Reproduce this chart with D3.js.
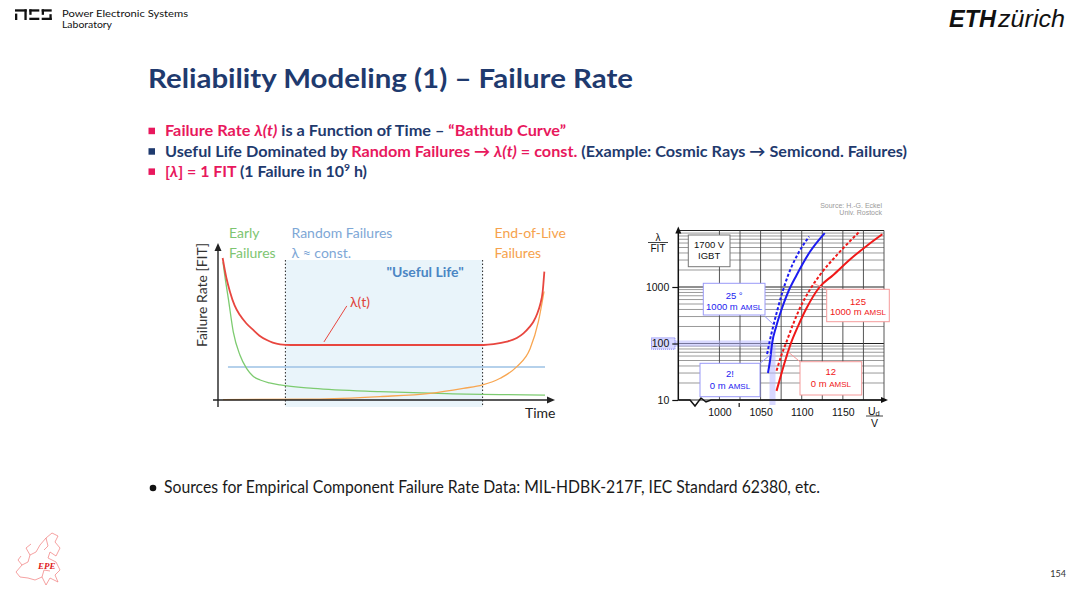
<!DOCTYPE html>
<html>
<head>
<meta charset="utf-8">
<script src="https://cdnjs.cloudflare.com/ajax/libs/d3/7.8.5/d3.min.js"></script>
<style>
  body { margin: 0; background: #fff; }
  svg { display: block; }
</style>
</head>
<body>
<svg id="slide" width="1080" height="590"></svg>
<script>
// ---------- bathtub curve (time 0..100, rate 0..100, arbitrary units) ----------
const totalRate = [[1.4,91.6],[2.5,79],[3.6,69.9],[5,61],[6.6,54.8],[8.5,49.5],[10.6,45.2],[12.5,41.5],
                   [14.7,38.7],[16.5,37],[18.7,35.9],[22,35.5],[80,35.5],[83,36],[87,37.6],[90,40],
                   [92,43],[93.8,47],[95,50.5],[96.2,56],[97,61.3],[97.8,70],[98.3,82.8]];
const earlyFailures = [[1.5,89],[2.2,78],[3.1,65.6],[4.6,44],[6.6,29],[8.6,20.4],[10.5,15.5],[12.7,12.9],
                       [15.5,11],[18.7,9.7],[28.7,7.5],[48.8,5.4],[68.9,4.1],[98.5,3.2]];
const wearOutFailures = [[1.5,0.3],[28.7,0.6],[48.8,2.2],[63.9,4.3],[73.9,7.5],[79.7,9.7],[85,14],
                         [90,21.5],[94,33],[96.5,50.5],[98.2,70]];
const randomFailures = [[3,21.3],[98.5,21.3]];
const usefulLife = [20.3, 79.7];

// ---------- 1700 V IGBT cosmic ray failure rate (FIT vs Ud) ----------
const voltTicks = [1000, 1050, 1100, 1150];
const voltGrid = [1000, 1025, 1050, 1075, 1100, 1125, 1150, 1175, 1200];
const fitTicks = [10, 100, 1000];
const blue25_1000m = [[1058,65],[1061,108],[1066,220],[1071,420],[1077,850],[1083.5,1620],[1096,4000],[1109,7800]];
const blue25_0m = [[1059,30],[1061.5,50],[1064,100],[1069,200],[1076,420],[1084,850],[1093.7,1620],[1110,4200],[1128,9000]];
const red125_1000m = [[1069.4,33],[1075,60],[1081.6,108],[1089,210],[1097.7,420],[1109,850],[1122,1620],[1145,4000],[1170,9500]];
const red125_0m = [[1069.4,14.5],[1074,25],[1080,50],[1087.6,108],[1096,210],[1105.8,420],[1121.8,1000],[1138,1620],[1160,3200],[1180,5500],[1198,8600]];

const pink = "#e8185d";
const navy = "#1f3a6e";

let svg = d3.select("#slide");

// rich text line (several coloured runs), squeezed to the width seen in the slide
function richText(sel, x, y, size, weight, len, parts) {
    let t = sel.append("text")
        .attr("x", x).attr("y", y)
        .attr("font-family", "Lato, 'Open Sans', sans-serif")
        .attr("font-size", size)
        .attr("font-weight", weight)
        .attr("xml:space", "preserve");
    if (len) t.attr("textLength", len).attr("lengthAdjust", "spacingAndGlyphs");
    let back = 0;
    parts.forEach(function(p) {
        let s = t.append("tspan").text(p.t).attr("fill", p.c);
        if (p.i) s.attr("font-style", "italic");
        if (p.sup) { s.attr("dy", -6).attr("font-size", size * 0.65); back = 6; }
        else if (back) { s.attr("dy", back); back = 0; }
    });
    return t;
}

// ---------- header ----------
let logo = svg.append("g").attr("fill", "#111");
// PES glyphs
[[15,9.3,11.7,2.3],[24.4,9.3,2.3,10.7],[15,13.6,2.3,6.4],
 [29.3,9.3,10,2.3],[29.3,9.3,2.3,5.5],[29.3,17.7,10,2.3],
 [41.7,9.3,10,2.3],[41.7,9.3,2.3,5.5],[41.7,17.7,10,2.3],[49.4,14.2,2.3,5.8]].forEach(function(r) {
    logo.append("rect").attr("x", r[0]).attr("y", r[1]).attr("width", r[2]).attr("height", r[3]);
});
logo.append("text").attr("x", 62).attr("y", 17.3).attr("font-family", "Lato, sans-serif")
    .attr("font-size", 10).attr("textLength", 126).attr("lengthAdjust", "spacingAndGlyphs")
    .text("Power Electronic Systems");
logo.append("text").attr("x", 62).attr("y", 28).attr("font-family", "Lato, sans-serif")
    .attr("font-size", 10).attr("textLength", 50).attr("lengthAdjust", "spacingAndGlyphs")
    .text("Laboratory");

svg.append("text").attr("x", 949).attr("y", 26.7)
    .attr("font-family", "'Liberation Sans', Arial, sans-serif").attr("font-size", 24)
    .attr("font-weight", "bold").attr("font-style", "italic").attr("fill", "#111")
    .attr("textLength", 47).attr("lengthAdjust", "spacingAndGlyphs").text("ETH");
svg.append("text").attr("x", 998).attr("y", 26.7)
    .attr("font-family", "'Liberation Sans', Arial, sans-serif").attr("font-size", 24)
    .attr("font-style", "italic").attr("fill", "#111")
    .attr("textLength", 67).attr("lengthAdjust", "spacingAndGlyphs").text("zürich");

// ---------- title and bullets ----------
svg.append("text").attr("x", 148).attr("y", 88)
    .attr("font-family", "Lato, sans-serif").attr("font-size", 27).attr("font-weight", "bold")
    .attr("fill", navy).attr("textLength", 485).attr("lengthAdjust", "spacingAndGlyphs")
    .text("Reliability Modeling (1) – Failure Rate");

let bulletY = [136.3, 156.8, 177];
let bulletCol = [pink, navy, pink];
bulletY.forEach(function(y, i) {
    svg.append("rect").attr("x", 148.5).attr("y", y - 8.6).attr("width", 6.5).attr("height", 6.5)
        .attr("fill", bulletCol[i]);
});
richText(svg, 165, bulletY[0], 15.5, "bold", 401, [
    {t: "Failure Rate ", c: pink}, {t: "λ(t)", c: pink, i: true},
    {t: " is a Function of Time – ", c: navy}, {t: "“Bathtub Curve”", c: pink}]);
richText(svg, 165, bulletY[1], 15.5, "bold", 742, [
    {t: "Useful Life Dominated by ", c: navy}, {t: "Random Failures → ", c: pink},
    {t: "λ(t)", c: pink, i: true}, {t: " = const.", c: pink},
    {t: " (Example: Cosmic Rays → Semicond. Failures)", c: navy}]);
richText(svg, 165, bulletY[2], 15.5, "bold", 202, [
    {t: "[", c: pink}, {t: "λ", c: pink, i: true}, {t: "] = 1 FIT", c: pink},
    {t: " (1 Failure in 10", c: navy}, {t: "9", c: navy, sup: true}, {t: " h)", c: navy}]);

// ---------- left chart: bathtub curve ----------
let lc = svg.append("g");
let lx = d3.scaleLinear().domain([0, 100]).range([218, 550]);
let ly = d3.scaleLinear().domain([0, 100]).range([400, 245]);

// useful life band
lc.append("rect")
    .attr("x", lx(usefulLife[0])).attr("y", ly(90.3))
    .attr("width", lx(usefulLife[1]) - lx(usefulLife[0])).attr("height", ly(-4.5) - ly(90.3))
    .attr("fill", "#e9f4fa");
usefulLife.forEach(function(t) {
    lc.append("line").attr("x1", lx(t)).attr("x2", lx(t)).attr("y1", ly(90.3)).attr("y2", ly(-4.5))
        .attr("stroke", "#222").attr("stroke-width", 1).attr("stroke-dasharray", "1.5,2");
});

let lline = d3.line().x(function(d) { return lx(d[0]); }).y(function(d) { return ly(d[1]); })
    .curve(d3.curveMonotoneX);

lc.append("path").datum(randomFailures).attr("d", lline).attr("fill", "none")
    .attr("stroke", "#9cc2e5").attr("stroke-width", 1.5);
lc.append("path").datum(earlyFailures).attr("d", lline).attr("fill", "none")
    .attr("stroke", "#7dcb70").attr("stroke-width", 1.3);
lc.append("path").datum(wearOutFailures).attr("d", lline).attr("fill", "none")
    .attr("stroke", "#f8a651").attr("stroke-width", 1.3);
lc.append("path").datum(totalRate).attr("d", lline).attr("fill", "none")
    .attr("stroke", "#e8463f").attr("stroke-width", 1.8);

// axes with arrows
lc.append("line").attr("x1", lx(-1.5)).attr("x2", lx(100.5)).attr("y1", ly(0)).attr("y2", ly(0))
    .attr("stroke", "#222").attr("stroke-width", 1.4);
lc.append("line").attr("x1", lx(0)).attr("x2", lx(0)).attr("y1", ly(-4.5)).attr("y2", ly(99))
    .attr("stroke", "#222").attr("stroke-width", 1.4);
lc.append("path").attr("d", "M" + (lx(101.5)) + "," + ly(0) + "l-8,-3.5v7z").attr("fill", "#222");
lc.append("path").attr("d", "M" + lx(0) + "," + (ly(100) - 2) + "l-3.5,8h7z").attr("fill", "#222");

// leader to lambda(t)
lc.append("line").attr("x1", lx(31.9)).attr("y1", ly(35.5) - 3).attr("x2", lx(38.8)).attr("y2", ly(60.7))
    .attr("stroke", "#e8463f").attr("stroke-width", 1);

let lf = "Lato, 'Open Sans', sans-serif";
function ltext(x, y, s, col, opt) {
    let t = lc.append("text").attr("x", x).attr("y", y).attr("font-family", lf)
        .attr("font-size", 14).attr("fill", col).text(s);
    if (opt) t.attr("font-weight", opt);
    return t;
}
ltext(229, 238, "Early", "#7dc571");
ltext(229, 257.5, "Failures", "#7dc571");
ltext(291.5, 238, "Random Failures", "#7ea7d6");
ltext(291.5, 257.5, "λ ≈ const.", "#7ea7d6");
ltext(494.5, 238, "End-of-Live", "#f6a24c");
ltext(494.5, 257.5, "Failures", "#f6a24c");
ltext(386.5, 277, "\"Useful Life\"", "#4b86c4", "bold");
ltext(350, 306.5, "λ(t)", "#e0443c");
ltext(525, 418, "Time", "#222");
lc.append("text").attr("transform", "translate(207,295) rotate(-90)").attr("text-anchor", "middle")
    .attr("font-family", lf).attr("font-size", 14).attr("fill", "#333")
    .attr("textLength", 104).attr("lengthAdjust", "spacingAndGlyphs").text("Failure Rate [FIT]");

// ---------- right chart: IGBT failure rate vs. voltage ----------
let rc = svg.append("g");
let af = "'Liberation Sans', Arial, sans-serif";
let rx = d3.scaleLinear().domain([950, 1200]).range([678.3, 884]);
let ry = d3.scaleLog().domain([10, 10000]).range([400, 230.5]);

rc.append("text").attr("x", 882).attr("y", 208).attr("text-anchor", "end").attr("font-family", af)
    .attr("font-size", 7).attr("fill", "#9a9a9a").text("Source: H.-G. Eckel");
rc.append("text").attr("x", 882).attr("y", 214.5).attr("text-anchor", "end").attr("font-family", af)
    .attr("font-size", 7).attr("fill", "#9a9a9a").text("Univ. Rostock");

// log grid
let hGrid = [];
[10, 100, 1000].forEach(function(dec) {
    for (let k = 1; k < 10; k++) hGrid.push(dec * k);
});
hGrid.push(10000);
rc.selectAll(".hgrid").data(hGrid).enter().append("line")
    .attr("x1", rx(950)).attr("x2", rx(1200))
    .attr("y1", function(d) { return ry(d); }).attr("y2", function(d) { return ry(d); })
    .attr("stroke", function(d) { return [10, 100, 1000, 10000].includes(d) ? "#222" : "#555"; })
    .attr("stroke-width", function(d) { return [10, 100, 1000, 10000].includes(d) ? 1.1 : 0.6; });
rc.selectAll(".vgrid").data(voltGrid).enter().append("line")
    .attr("x1", function(d) { return rx(d); }).attr("x2", function(d) { return rx(d); })
    .attr("y1", ry(10000)).attr("y2", ry(10))
    .attr("stroke", "#444").attr("stroke-width", 0.9);

// highlight of the 100 FIT level
rc.append("rect").attr("x", 651).attr("y", ry(100) - 3).attr("width", rx(1064.5) - 651).attr("height", 6)
    .attr("fill", "#b8b8ff").attr("opacity", 0.55);
rc.append("rect").attr("x", rx(1064.5) - 3).attr("y", ry(100)).attr("width", 6).attr("height", ry(10) + 5 - ry(100))
    .attr("fill", "#b8b8ff").attr("opacity", 0.55);
rc.append("rect").attr("x", 651.5).attr("y", ry(100) - 5.7).attr("width", 23.5).attr("height", 11.4)
    .attr("fill", "#d8d8ff").attr("stroke", "#5a5af0").attr("stroke-width", 0.8).attr("stroke-dasharray", "1,1");

// curves
let rline = d3.line().x(function(d) { return rx(d[0]); }).y(function(d) { return ry(d[1]); })
    .curve(d3.curveMonotoneX);
let blue = "#1c1cf0", red = "#f01818";
rc.append("path").datum(blue25_1000m).attr("d", rline).attr("fill", "none")
    .attr("stroke", blue).attr("stroke-width", 2).attr("stroke-dasharray", "3,2");
rc.append("path").datum(blue25_0m).attr("d", rline).attr("fill", "none")
    .attr("stroke", blue).attr("stroke-width", 2);
rc.append("path").datum(red125_1000m).attr("d", rline).attr("fill", "none")
    .attr("stroke", red).attr("stroke-width", 2).attr("stroke-dasharray", "3,2");
rc.append("path").datum(red125_0m).attr("d", rline).attr("fill", "none")
    .attr("stroke", red).attr("stroke-width", 2);

// axes
rc.append("path")
    .attr("d", "M" + rx(950) + "," + ry(10) + "H690L695,406L701,398L706,402L711,400H" + (rx(1200) + 2))
    .attr("fill", "none").attr("stroke", "#111").attr("stroke-width", 1.5);
rc.append("path").attr("d", "M" + (rx(1200) + 4) + "," + ry(10) + "l-7,-3v6z").attr("fill", "#111");
rc.append("line").attr("x1", rx(950)).attr("x2", rx(950)).attr("y1", ry(10)).attr("y2", ry(10000) - 1)
    .attr("stroke", "#111").attr("stroke-width", 1.5);
rc.append("path").attr("d", "M" + rx(950) + "," + (ry(10000) - 4) + "l-3,7h6z").attr("fill", "#111");
rc.append("line").attr("x1", rx(1024)).attr("x2", rx(1024)).attr("y1", ry(10) + 3).attr("y2", ry(10) + 7)
    .attr("stroke", "#111").attr("stroke-width", 1.2);

let yAxis = rc.append("g").attr("transform", "translate(" + rx(950) + ",0)")
    .call(d3.axisLeft(ry).tickValues(fitTicks).tickFormat(d3.format("d")).tickSize(6).tickPadding(3));
yAxis.select(".domain").remove();
yAxis.selectAll("text").attr("font-family", af).attr("font-size", 10.5).attr("fill", "#111");
yAxis.selectAll("line").attr("stroke", "#111").attr("stroke-width", 1.2);

let xAxis = rc.append("g").attr("transform", "translate(0," + ry(10) + ")")
    .call(d3.axisBottom(rx).tickValues(voltTicks).tickFormat(d3.format("d")).tickSize(0).tickPadding(9));
xAxis.select(".domain").remove();
xAxis.selectAll("text").attr("font-family", af).attr("font-size", 10.5).attr("fill", "#111");

// axis titles as fractions
rc.append("text").attr("x", 658).attr("y", 240.5).attr("text-anchor", "middle").attr("font-family", af)
    .attr("font-size", 10).attr("fill", "#111").text("λ");
rc.append("line").attr("x1", 648).attr("x2", 668).attr("y1", 242.5).attr("y2", 242.5).attr("stroke", "#111").attr("stroke-width", 0.8);
rc.append("text").attr("x", 658).attr("y", 252).attr("text-anchor", "middle").attr("font-family", af)
    .attr("font-size", 10).attr("fill", "#111").text("FIT");
let ud = rc.append("text").attr("x", 868).attr("y", 414.5).attr("font-family", af)
    .attr("font-size", 10.5).attr("fill", "#111");
ud.append("tspan").text("U");
ud.append("tspan").text("d").attr("font-size", 7.5).attr("dy", 1.5);
rc.append("line").attr("x1", 866).attr("x2", 883).attr("y1", 416).attr("y2", 416).attr("stroke", "#111").attr("stroke-width", 0.8);
rc.append("text").attr("x", 874.5).attr("y", 426.5).attr("text-anchor", "middle").attr("font-family", af)
    .attr("font-size", 10.5).attr("fill", "#111").text("V");

// callout boxes: box in px, leader to a point on the curve (data coords)
let callouts = [
    {box: [688.3, 235, 41.7, 31.7], lines: ["1700 V", "IGBT"], col: "#111", stroke: "#777", ys: [247.5, 259]},
    {box: [703.3, 283.3, 61.7, 31.7], lines: ["25 °", "1000 m AMSL"], col: blue, stroke: "#9a9af8", ys: [298.5, 309.5],
     from: [765, 316.5], to: [1066, 215]},
    {box: [700, 363.3, 60, 33.4], lines: ["2!", "0 m  AMSL"], col: blue, stroke: "#9a9af8", ys: [376.5, 388.5],
     from: [760, 363.3], to: [1062.5, 64]},
    {box: [826.7, 289.3, 62.6, 32.4], lines: ["125", "1000 m AMSL"], col: red, stroke: "#f59a9a", ys: [304.5, 315],
     from: [826.7, 289.3], to: [1115, 1150]},
    {box: [800, 361.7, 61.7, 33.3], lines: ["12", "0 m  AMSL"], col: red, stroke: "#f59a9a", ys: [375, 387],
     from: [800, 361.7], to: [1084, 70]}
];
callouts.forEach(function(c) {
    if (c.from) {
        rc.append("line").attr("x1", c.from[0]).attr("y1", c.from[1])
            .attr("x2", rx(c.to[0])).attr("y2", ry(c.to[1]))
            .attr("stroke", c.stroke).attr("stroke-width", 1);
    }
    rc.append("rect").attr("x", c.box[0]).attr("y", c.box[1]).attr("width", c.box[2]).attr("height", c.box[3])
        .attr("fill", "#fff").attr("stroke", c.stroke).attr("stroke-width", 1);
    c.lines.forEach(function(s, i) {
        let t = rc.append("text").attr("x", c.box[0] + c.box[2] / 2).attr("y", c.ys[i])
            .attr("text-anchor", "middle").attr("font-family", af).attr("font-size", 9.5).attr("fill", c.col);
        let m = s.indexOf("AMSL");
        if (m >= 0) {
            t.append("tspan").text(s.slice(0, m));
            t.append("tspan").text("AMSL").attr("font-size", 8);
        } else {
            t.text(s);
        }
    });
});

// ---------- footer ----------
svg.append("circle").attr("cx", 153).attr("cy", 488).attr("r", 3.3).attr("fill", "#111");
svg.append("text").attr("x", 164).attr("y", 493).attr("font-family", "Lato, sans-serif")
    .attr("font-size", 16.5).attr("fill", "#1a1a1a")
    .attr("textLength", 656).attr("lengthAdjust", "spacingAndGlyphs")
    .text("Sources for Empirical Component Failure Rate Data: MIL-HDBK-217F, IEC Standard 62380, etc.");

// EPE logo (rough outline of Europe)
let epe = svg.append("g").attr("fill", "none").attr("stroke", "#f07a7a").attr("stroke-width", 0.7);
epe.append("path").attr("d", "M40,545 L46,538 L52,533 L58,536 L55,542 L60,548 L56,556 L50,552 L48,558 L56,562 L60,570 L55,575 L58,582 L50,578 L46,585 L42,577 L35,580 L28,578 L20,577 L16,572 L22,565 L28,562 L30,555 L36,552 Z");
epe.append("path").attr("d", "M30,555 L26,548 L31,544 M22,565 L18,560 L21,556 M42,577 L44,570 L50,571 M46,538 L48,546 L44,550");
svg.append("text").attr("x", 38).attr("y", 569).attr("font-family", "'Liberation Serif', serif")
    .attr("font-size", 9).attr("font-weight", "bold").attr("font-style", "italic").attr("fill", "#e02020").text("EPE");

svg.append("text").attr("x", 1066).attr("y", 577).attr("text-anchor", "end").attr("font-family", "Lato, sans-serif")
    .attr("font-size", 9).attr("fill", "#333").text("154");
</script>
</body>
</html>
